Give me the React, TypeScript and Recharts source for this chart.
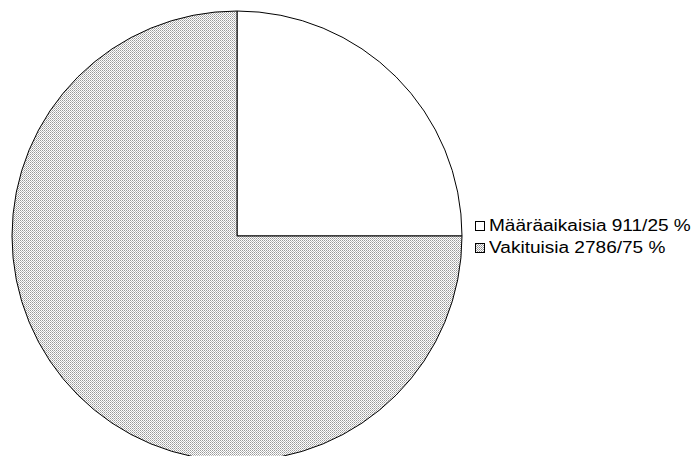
import { PieChart, Pie, Cell, Legend } from 'recharts';

const labels = ['Määräaikaisia', 'Vakituisia'];
const counts = [911, 2786];
const shares = [25, 75];

const data = labels.map((name, i) => ({
  name,
  value: shares[i],
  label: `${name} ${counts[i]}/${shares[i]} %`,
}));

const fills = ['#ffffff', 'url(#dots)'];

function DotLegend() {
  return (
    <div style={{ fontFamily: '"Liberation Sans", Arial, sans-serif', fontSize: 16, color: '#000' }}>
      {data.map((d, i) => (
        <div key={d.name} style={{ display: 'flex', alignItems: 'center', height: 22, whiteSpace: 'nowrap' }}>
          <svg width={11} height={11} style={{ marginRight: 3, flex: 'none' }}>
            <defs>
              <pattern id={`ldots${i}`} width={2} height={2} patternUnits="userSpaceOnUse">
                <rect width={2} height={2} fill="#fff" />
                <rect width={1} height={1} fill="#888" />
                <rect x={1} y={1} width={1} height={1} fill="#aaa" />
              </pattern>
            </defs>
            <rect x={0.5} y={0.5} width={9} height={9} fill={i === 0 ? '#fff' : `url(#ldots${i})`} stroke="#000" strokeWidth={1} />
          </svg>
          <span style={{ display: 'inline-block', transform: 'scaleX(1.19)', transformOrigin: 'left center' }}>{d.label}</span>
        </div>
      ))}
    </div>
  );
}

export default function App() {
  return (
    <div style={{ position: 'absolute', left: 0, top: 0, width: 699, height: 456, background: '#fff', overflow: 'hidden' }}>
      <PieChart width={699} height={470} margin={{ top: 0, right: 0, bottom: 0, left: 0 }}>
        <defs>
          <pattern id="dots" width={2} height={2} patternUnits="userSpaceOnUse">
            <rect width={2} height={2} fill="#fff" />
            <rect width={1} height={1} fill="#999" />
            <rect x={1} y={1} width={1} height={1} fill="#bbb" />
          </pattern>
        </defs>
        <Pie
          data={data}
          dataKey="value"
          nameKey="name"
          cx={237}
          cy={236}
          outerRadius={225}
          startAngle={90}
          endAngle={-270}
          stroke="#000"
          strokeWidth={1}
          isAnimationActive={false}
        >
          {data.map((d, i) => (
            <Cell key={d.name} fill={fills[i]} />
          ))}
        </Pie>
        <Legend
          content={<DotLegend />}
          wrapperStyle={{ position: 'absolute', left: 475, top: 215, width: 224, bottom: 'auto' }}
        />
      </PieChart>
    </div>
  );
}
